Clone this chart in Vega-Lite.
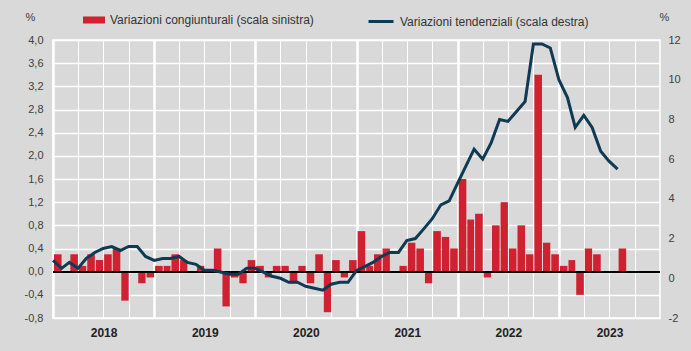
{
  "$schema": "https://vega.github.io/schema/vega-lite/v6.json",
  "width": 607,
  "height": 278,
  "autosize": {"type": "none"},
  "padding": {"left": 53, "top": 40, "right": 31, "bottom": 33},
  "background": "#d9d9d9",
  "config": {
    "font": "Liberation Sans",
    "view": {"stroke": "#ffffff", "strokeWidth": 1.5, "fill": "#d9d9d9"},
    "axis": {"labelFont": "Liberation Sans", "titleFont": "Liberation Sans", "labelOverlap": false},
    "legend": {"labelFont": "Liberation Sans", "padding": 0, "labelLimit": 0}
  },
  "data": {
    "values": [
      {"date": "2018-01-01", "cong": 0.3, "tend": 0.9},
      {"date": "2018-02-01", "cong": 0.0, "tend": 0.5},
      {"date": "2018-03-01", "cong": 0.3, "tend": 0.8},
      {"date": "2018-04-01", "cong": 0.1, "tend": 0.5},
      {"date": "2018-05-01", "cong": 0.3, "tend": 1.0},
      {"date": "2018-06-01", "cong": 0.2, "tend": 1.3},
      {"date": "2018-07-01", "cong": 0.3, "tend": 1.5},
      {"date": "2018-08-01", "cong": 0.4, "tend": 1.6},
      {"date": "2018-09-01", "cong": -0.5, "tend": 1.4},
      {"date": "2018-10-01", "cong": 0.0, "tend": 1.6},
      {"date": "2018-11-01", "cong": -0.2, "tend": 1.6},
      {"date": "2018-12-01", "cong": -0.1, "tend": 1.1},
      {"date": "2019-01-01", "cong": 0.1, "tend": 0.9},
      {"date": "2019-02-01", "cong": 0.1, "tend": 1.0},
      {"date": "2019-03-01", "cong": 0.3, "tend": 1.0},
      {"date": "2019-04-01", "cong": 0.2, "tend": 1.1},
      {"date": "2019-05-01", "cong": 0.0, "tend": 0.8},
      {"date": "2019-06-01", "cong": 0.1, "tend": 0.7},
      {"date": "2019-07-01", "cong": 0.0, "tend": 0.4},
      {"date": "2019-08-01", "cong": 0.4, "tend": 0.4},
      {"date": "2019-09-01", "cong": -0.6, "tend": 0.3},
      {"date": "2019-10-01", "cong": -0.1, "tend": 0.2},
      {"date": "2019-11-01", "cong": -0.2, "tend": 0.2},
      {"date": "2019-12-01", "cong": 0.2, "tend": 0.5},
      {"date": "2020-01-01", "cong": 0.1, "tend": 0.5},
      {"date": "2020-02-01", "cong": -0.1, "tend": 0.3},
      {"date": "2020-03-01", "cong": 0.1, "tend": 0.1},
      {"date": "2020-04-01", "cong": 0.1, "tend": 0.0},
      {"date": "2020-05-01", "cong": -0.2, "tend": -0.2},
      {"date": "2020-06-01", "cong": 0.1, "tend": -0.2},
      {"date": "2020-07-01", "cong": -0.2, "tend": -0.4},
      {"date": "2020-08-01", "cong": 0.3, "tend": -0.5},
      {"date": "2020-09-01", "cong": -0.7, "tend": -0.6},
      {"date": "2020-10-01", "cong": 0.2, "tend": -0.3},
      {"date": "2020-11-01", "cong": -0.1, "tend": -0.2},
      {"date": "2020-12-01", "cong": 0.2, "tend": -0.2},
      {"date": "2021-01-01", "cong": 0.7, "tend": 0.4},
      {"date": "2021-02-01", "cong": 0.1, "tend": 0.6},
      {"date": "2021-03-01", "cong": 0.3, "tend": 0.8},
      {"date": "2021-04-01", "cong": 0.4, "tend": 1.1},
      {"date": "2021-05-01", "cong": 0.0, "tend": 1.3},
      {"date": "2021-06-01", "cong": 0.1, "tend": 1.3},
      {"date": "2021-07-01", "cong": 0.5, "tend": 1.9},
      {"date": "2021-08-01", "cong": 0.4, "tend": 2.0},
      {"date": "2021-09-01", "cong": -0.2, "tend": 2.5},
      {"date": "2021-10-01", "cong": 0.7, "tend": 3.0},
      {"date": "2021-11-01", "cong": 0.6, "tend": 3.7},
      {"date": "2021-12-01", "cong": 0.4, "tend": 3.9},
      {"date": "2022-01-01", "cong": 1.6, "tend": 4.8},
      {"date": "2022-02-01", "cong": 0.9, "tend": 5.7},
      {"date": "2022-03-01", "cong": 1.0, "tend": 6.5},
      {"date": "2022-04-01", "cong": -0.1, "tend": 6.0},
      {"date": "2022-05-01", "cong": 0.8, "tend": 6.8},
      {"date": "2022-06-01", "cong": 1.2, "tend": 8.0},
      {"date": "2022-07-01", "cong": 0.4, "tend": 7.9},
      {"date": "2022-08-01", "cong": 0.8, "tend": 8.4},
      {"date": "2022-09-01", "cong": 0.3, "tend": 8.9},
      {"date": "2022-10-01", "cong": 3.4, "tend": 11.8},
      {"date": "2022-11-01", "cong": 0.5, "tend": 11.8},
      {"date": "2022-12-01", "cong": 0.3, "tend": 11.6},
      {"date": "2023-01-01", "cong": 0.1, "tend": 10.0},
      {"date": "2023-02-01", "cong": 0.2, "tend": 9.1},
      {"date": "2023-03-01", "cong": -0.4, "tend": 7.6},
      {"date": "2023-04-01", "cong": 0.4, "tend": 8.2},
      {"date": "2023-05-01", "cong": 0.3, "tend": 7.6},
      {"date": "2023-06-01", "cong": 0.0, "tend": 6.4},
      {"date": "2023-07-01", "cong": 0.0, "tend": 5.9},
      {"date": "2023-08-01", "cong": 0.4, "tend": 5.5}
    ]
  },
  "layer": [
    {
      "layer": [
        {
          "mark": {"type": "bar"},
          "encoding": {
            "x": {
              "field": "date",
              "type": "temporal",
              "timeUnit": "utcyearmonth",
              "scale": {
                "type": "utc",
                "domain": [
                  {"year": 2018, "month": 1, "date": 1, "utc": true},
                  {"year": 2024, "month": 1, "date": 1, "utc": true}
                ]
              },
              "axis": {
                "title": null,
                "tickCount": 30,
                "values": [
                  {"year": 2018, "month": 1, "date": 1, "utc": true},
                  {"year": 2018, "month": 4, "date": 1, "utc": true},
                  {"year": 2018, "month": 7, "date": 1, "utc": true},
                  {"year": 2018, "month": 10, "date": 1, "utc": true},
                  {"year": 2019, "month": 1, "date": 1, "utc": true},
                  {"year": 2019, "month": 4, "date": 1, "utc": true},
                  {"year": 2019, "month": 7, "date": 1, "utc": true},
                  {"year": 2019, "month": 10, "date": 1, "utc": true},
                  {"year": 2020, "month": 1, "date": 1, "utc": true},
                  {"year": 2020, "month": 4, "date": 1, "utc": true},
                  {"year": 2020, "month": 7, "date": 1, "utc": true},
                  {"year": 2020, "month": 10, "date": 1, "utc": true},
                  {"year": 2021, "month": 1, "date": 1, "utc": true},
                  {"year": 2021, "month": 4, "date": 1, "utc": true},
                  {"year": 2021, "month": 7, "date": 1, "utc": true},
                  {"year": 2021, "month": 10, "date": 1, "utc": true},
                  {"year": 2022, "month": 1, "date": 1, "utc": true},
                  {"year": 2022, "month": 4, "date": 1, "utc": true},
                  {"year": 2022, "month": 7, "date": 1, "utc": true},
                  {"year": 2022, "month": 10, "date": 1, "utc": true},
                  {"year": 2023, "month": 1, "date": 1, "utc": true},
                  {"year": 2023, "month": 4, "date": 1, "utc": true},
                  {"year": 2023, "month": 7, "date": 1, "utc": true},
                  {"year": 2023, "month": 10, "date": 1, "utc": true}
                ],
                "grid": true,
                "gridColor": "#ffffff",
                "gridWidth": {"condition": {"test": "utcmonth(datum.value) === 0", "value": 2.5}, "value": 1},
                "domain": false,
                "ticks": false,
                "labelExpr": "utcmonth(datum.value) === 0 ? utcFormat(datum.value, '%Y') : ''",
                "labelOffset": 50.6,
                "labelPadding": 9,
                "labelFontSize": 12,
                "labelFontWeight": "bold",
                "labelColor": "#222222",
                "labelOverlap": false,
                "labelFlush": false,
                "labelBound": false
              }
            },
            "y": {
              "field": "cong",
              "type": "quantitative",
              "scale": {"domain": [-0.8, 4.0], "nice": false, "zero": false},
              "axis": {
                "tickCount": 20,
                "values": [-0.8, -0.4, 0, 0.4, 0.8, 1.2, 1.6, 2.0, 2.4, 2.8, 3.2, 3.6, 4.0],
                "labelExpr": "replace(replace(format(datum.value, '.1f'), '.', ','), '−', '-')",
                "labelOverlap": false,
                "grid": true,
                "gridColor": "#ffffff",
                "gridWidth": 1.5,
                "domain": false,
                "ticks": false,
                "labelPadding": 10,
                "labelFontSize": 11,
                "labelColor": "#404040",
                "title": "%",
                "titleAngle": 0,
                "titleX": -23,
                "titleY": -20,
                "titleAlign": "center",
                "titleBaseline": "alphabetic",
                "titleFontWeight": "normal",
                "titleFontSize": 11,
                "titleColor": "#404040"
              }
            },
            "fill": {
              "datum": "Variazioni congiunturali (scala sinistra)",
              "scale": {"range": ["#cf2130"]},
              "legend": {
                "orient": "none",
                "legendX": 30,
                "legendY": -31,
                "title": null,
                "symbolType": "M-1,-0.32H1V0.32H-1Z",
                "symbolSize": 484,
                "symbolStrokeWidth": 0,
                "labelFontSize": 12,
                "labelColor": "#333333",
                "labelOffset": 5,
                "labelLimit": 0
              }
            }
          }
        },
        {
          "mark": {"type": "rule", "color": "#000000", "strokeWidth": 1.2},
          "encoding": {"y": {"datum": 0, "type": "quantitative"}}
        }
      ]
    },
    {
      "mark": {"type": "line", "strokeWidth": 3, "timeUnitBandPosition": 0.5},
      "encoding": {
        "x": {"field": "date", "type": "temporal", "timeUnit": "utcyearmonth"},
        "y": {
          "field": "tend",
          "type": "quantitative",
          "scale": {"domain": [-2, 12], "nice": false, "zero": false},
          "axis": {
            "orient": "right",
            "tickCount": 20,
            "values": [-2, 0, 2, 4, 6, 8, 10, 12],
            "labelExpr": "replace(format(datum.value, 'd'), '−', '-')",
            "labelOverlap": false,
            "grid": false,
            "domain": false,
            "ticks": false,
            "labelPadding": 8,
            "labelFontSize": 11,
            "labelColor": "#404040",
            "title": "%",
            "titleAngle": 0,
            "titleX": 4,
            "titleY": -20,
            "titleAlign": "center",
            "titleBaseline": "alphabetic",
            "titleFontWeight": "normal",
            "titleFontSize": 11,
            "titleColor": "#404040"
          }
        },
        "stroke": {
          "datum": "Variazioni tendenziali (scala destra)",
          "scale": {"range": ["#0e3a53"]},
          "legend": {
            "orient": "none",
            "legendX": 314,
            "legendY": -32.5,
            "title": null,
            "symbolType": "M-1,0H1",
            "symbolSize": 625,
            "symbolStrokeWidth": 3,
            "labelFontSize": 12,
            "labelColor": "#333333",
            "labelOffset": 5,
            "labelLimit": 0
          }
        }
      }
    }
  ],
  "resolve": {"scale": {"y": "independent"}}
}
